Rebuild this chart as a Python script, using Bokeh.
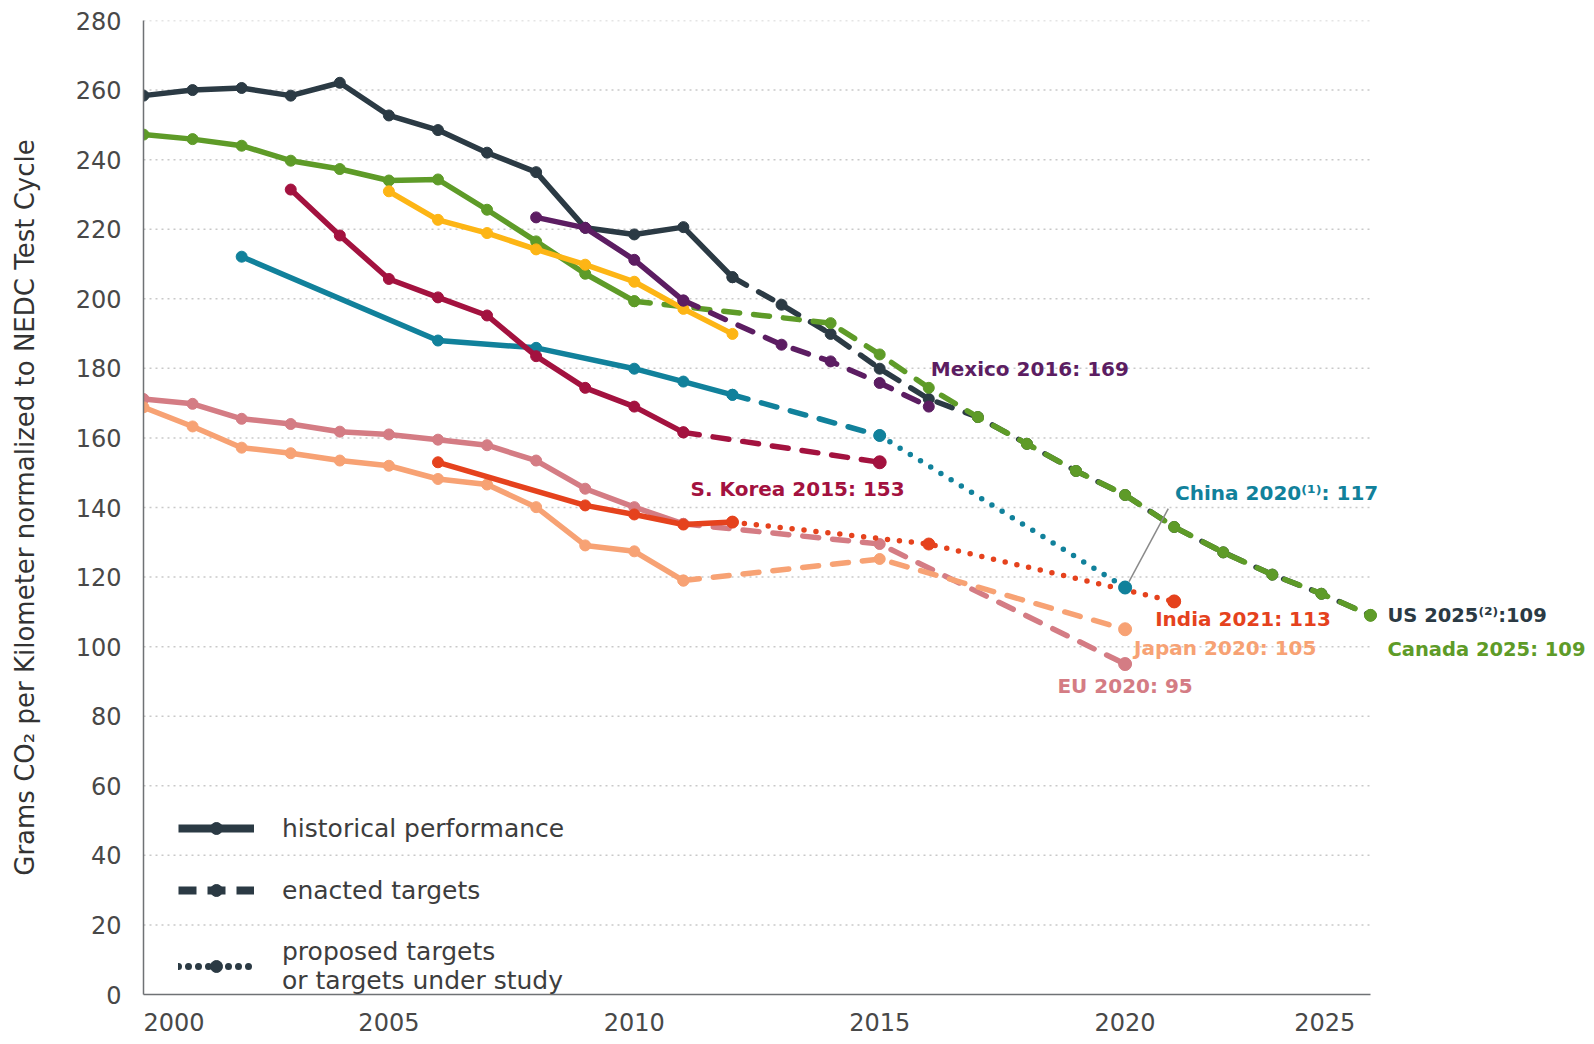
from bokeh.plotting import figure
from bokeh.models import (Legend, LegendItem, Label, FixedTicker, Range1d)
from bokeh.embed import file_html
from bokeh.resources import INLINE

# ---------------- data ----------------
us_hist_years = [2000, 2001, 2002, 2003, 2004, 2005, 2006, 2007, 2008, 2009, 2010, 2011, 2012]
us_hist = [258.4, 260.0, 260.6, 258.4, 262.1, 252.7, 248.5, 242.0, 236.4, 220.4, 218.5, 220.6, 206.2]
us_tgt_years = [2012, 2013, 2014, 2015, 2016, 2017, 2018, 2019, 2020, 2021, 2022, 2023, 2024, 2025]
us_tgt = [206.2, 198.3, 189.9, 179.9, 171.2, 166.0, 158.3, 150.5, 143.6, 134.4, 127.1, 120.7, 115.2, 109.0]

ca_hist_years = [2000, 2001, 2002, 2003, 2004, 2005, 2006, 2007, 2008, 2009, 2010]
ca_hist = [247.2, 245.9, 244.0, 239.7, 237.3, 234.0, 234.3, 225.6, 216.5, 207.2, 199.3]
ca_tgt_years = [2010, 2014, 2015, 2016, 2017, 2018, 2019, 2020, 2021, 2022, 2023, 2024, 2025]
ca_tgt = [199.3, 193.0, 184.0, 174.4, 166.0, 158.3, 150.5, 143.6, 134.4, 127.1, 120.7, 115.2, 109.0]

mx_hist_years = [2008, 2009, 2010, 2011]
mx_hist = [223.4, 220.4, 211.2, 199.5]
mx_tgt_years = [2011, 2013, 2014, 2015, 2016]
mx_tgt = [199.5, 186.8, 182.0, 175.8, 169.0]

au_hist_years = [2005, 2006, 2007, 2008, 2009, 2010, 2011, 2012]
au_hist = [230.9, 222.7, 218.9, 214.2, 209.8, 204.9, 197.1, 189.9]

kr_hist_years = [2003, 2004, 2005, 2006, 2007, 2008, 2009, 2010, 2011]
kr_hist = [231.4, 218.2, 205.7, 200.4, 195.2, 183.5, 174.4, 169.0, 161.6]
kr_tgt_years = [2011, 2015]
kr_tgt = [161.6, 153.0]

cn_hist_years = [2002, 2006, 2008, 2010, 2011, 2012]
cn_hist = [212.1, 188.0, 185.9, 179.9, 176.2, 172.4]
cn_tgt_years = [2012, 2015]
cn_tgt = [172.4, 160.7]
cn_prop_years = [2015, 2020]
cn_prop = [160.7, 117.0]

eu_hist_years = [2000, 2001, 2002, 2003, 2004, 2005, 2006, 2007, 2008, 2009, 2010, 2011]
eu_hist = [171.2, 169.8, 165.5, 164.0, 161.8, 161.0, 159.5, 157.9, 153.5, 145.4, 140.1, 135.3]
eu_tgt_years = [2011, 2015, 2020]
eu_tgt = [135.3, 129.5, 95.0]

jp_hist_years = [2000, 2001, 2002, 2003, 2004, 2005, 2006, 2007, 2008, 2009, 2010, 2011]
jp_hist = [168.8, 163.3, 157.2, 155.6, 153.5, 152.0, 148.2, 146.6, 140.1, 129.1, 127.4, 119.0]
jp_tgt_years = [2011, 2015, 2020]
jp_tgt = [119.0, 125.2, 105.0]

in_hist_years = [2006, 2009, 2010, 2011, 2012]
in_hist = [153.0, 140.6, 138.0, 135.1, 135.8]
in_prop_years = [2012, 2016, 2021]
in_prop = [135.8, 129.5, 113.0]

y_ticks = [0, 20, 40, 60, 80, 100, 120, 140, 160, 180, 200, 220, 240, 260, 280]
x_ticks = [2000, 2005, 2010, 2015, 2020, 2025]
x_tick_labels = ["\u00a0" * 8 + "2000", "2005", "2010", "2015", "2020", "2025" + "\u00a0" * 12]
x_axis_span = (2000, 2025)

legend_labels = ["historical performance", "enacted targets", "proposed targets\nor targets under study"]

# ---------------- colours ----------------
C_US = "#2b3a44"
C_CA = "#5e9b28"
C_MX = "#5c1d62"
C_AU = "#fdb515"
C_KR = "#a3123f"
C_CN = "#11819b"
C_EU = "#d47c84"
C_JP = "#f7a274"
C_IN = "#e5421d"

FONT = "DejaVu Sans"

W, H = 1594, 1040
LEFT, TOP, BOTTOM = 143, 20, 46
PX_PER_YEAR = 49.08
x_end = x_axis_span[0] + (W - LEFT) / PX_PER_YEAR

p = figure(width=W, height=H, x_range=Range1d(x_axis_span[0], x_end), y_range=Range1d(0, 280),
           output_backend="svg", toolbar_location=None,
           min_border_left=LEFT, min_border_right=0, min_border_top=TOP, min_border_bottom=BOTTOM)
p.outline_line_color = None
p.background_fill_color = "white"
p.border_fill_color = "white"

p.xgrid.visible = False
p.ygrid.visible = False

# dotted horizontal grid lines limited to the axis span
gy = [t for t in y_ticks if t > 0]
p.segment(x0=[x_axis_span[0]] * len(gy), y0=gy, x1=[x_axis_span[1]] * len(gy), y1=gy,
          line_color="#c9c9c9", line_dash="2 4", line_width=1.5)

p.yaxis.ticker = FixedTicker(ticks=y_ticks)
p.xaxis.ticker = FixedTicker(ticks=x_ticks)
p.xaxis.bounds = x_axis_span
p.xaxis.major_label_overrides = {t: l for t, l in zip(x_ticks, x_tick_labels)}
for ax in (p.xaxis, p.yaxis):
    ax.axis_line_color = "#6f7275"
    ax.axis_line_width = 1.5
    ax.major_tick_line_color = None
    ax.minor_tick_line_color = None
    ax.major_label_text_font = FONT
    ax.major_label_text_font_size = "24px"
    ax.major_label_text_color = "#484848"
p.yaxis.major_label_standoff = 16
p.xaxis.major_label_standoff = 8
p.yaxis.axis_label = "Grams CO\u2082 per Kilometer normalized to NEDC Test Cycle"
p.yaxis.axis_label_text_font = FONT
p.yaxis.axis_label_text_font_size = "26px"
p.yaxis.axis_label_text_font_style = "normal"
p.yaxis.axis_label_text_color = "#333333"
p.yaxis.axis_label_standoff = 33

LW = 5.5
DASH = "16 14"
DOT = "0 12"


def draw(xs, ys, color, kind, size=11, end_size=None):
    if kind == "hist":
        p.line(xs, ys, line_color=color, line_width=LW, line_join="round", line_cap="round")
    elif kind == "enacted":
        p.line(xs, ys, line_color=color, line_width=LW, line_dash=DASH, line_cap="round", line_join="round")
    else:
        p.line(xs, ys, line_color=color, line_width=LW, line_dash=DOT, line_cap="round")
    p.scatter(xs, ys, size=size, color=color)
    if end_size:
        p.scatter(xs[-1:], ys[-1:], size=end_size, color=color)


# drawing order (bottom to top)
draw(eu_hist_years, eu_hist, C_EU, "hist")
draw(eu_tgt_years, eu_tgt, C_EU, "enacted", end_size=13)
draw(jp_hist_years, jp_hist, C_JP, "hist")
draw(jp_tgt_years, jp_tgt, C_JP, "enacted", end_size=13)
draw(in_hist_years, in_hist, C_IN, "hist")
draw(in_prop_years, in_prop, C_IN, "proposed", size=12, end_size=13)
draw(cn_hist_years, cn_hist, C_CN, "hist")
draw(cn_tgt_years, cn_tgt, C_CN, "enacted")
draw(cn_prop_years, cn_prop, C_CN, "proposed", size=12, end_size=13)
draw(kr_hist_years, kr_hist, C_KR, "hist")
draw(kr_tgt_years, kr_tgt, C_KR, "enacted", end_size=13)
draw(us_hist_years, us_hist, C_US, "hist")
draw(us_tgt_years, us_tgt, C_US, "enacted")
draw(ca_hist_years, ca_hist, C_CA, "hist")
draw(ca_tgt_years, ca_tgt, C_CA, "enacted", end_size=12)
draw(au_hist_years, au_hist, C_AU, "hist")
draw(mx_hist_years, mx_hist, C_MX, "hist")
draw(mx_tgt_years, mx_tgt, C_MX, "enacted")

# China leader line
p.segment(x0=[cn_prop_years[-1] + 0.08], y0=[cn_prop[-1] + 1.7],
          x1=[cn_prop_years[-1] + 0.88], y1=[cn_prop[-1] + 22.7],
          line_color="#8a8a8a", line_width=1.5)

# target labels
LBL = dict(text_font=FONT, text_font_style="bold", text_baseline="middle")
labels = [
    (mx_tgt_years[-1], mx_tgt[-1], "Mexico 2016: 169", C_MX, "left", 2, 38, "20px"),
    (kr_tgt_years[-1], kr_tgt[-1], "S. Korea 2015: 153", C_KR, "right", 25, -27, "20px"),
    (cn_prop_years[-1], cn_prop[-1], "China 2020\u207d\u00b9\u207e: 117", C_CN, "left", 50, 95, "20px"),
    (in_prop_years[-1], in_prop[-1], "India 2021: 113", C_IN, "left", -19, -18, "20px"),
    (jp_tgt_years[-1], jp_tgt[-1], "Japan 2020: 105", C_JP, "left", 9, -19, "20px"),
    (eu_tgt_years[-1], eu_tgt[-1], "EU 2020: 95", C_EU, "center", 0, -22, "20px"),
    (us_tgt_years[-1], us_tgt[-1], "US 2025\u207d\u00b2\u207e:109", C_US, "left", 17, 0, "19.5px"),
    (ca_tgt_years[-1], ca_tgt[-1], "Canada 2025: 109", C_CA, "left", 17, -34, "19.5px"),
]
for x, y, t, c, al, dx, dy, fs in labels:
    p.add_layout(Label(x=x, y=y, text=t, text_color=c, text_align=al, x_offset=dx, y_offset=dy,
                       text_font_size=fs, **LBL))

# legend (style keys only, no visible data)
NAN = [float("nan")]
lh = p.line(NAN, NAN, line_color=C_US, line_width=8)
sh = p.scatter(NAN, NAN, size=16, color=C_US)
le = p.line(NAN, NAN, line_color=C_US, line_width=8, line_dash="18 11")
se = p.scatter(NAN, NAN, size=16, color=C_US)
lp = p.line(NAN, NAN, line_color=C_US, line_width=7, line_dash="0 10", line_cap="round")
sp = p.scatter(NAN, NAN, size=18, color=C_US)

legend = Legend(items=[LegendItem(label=legend_labels[0], renderers=[lh, sh]),
                       LegendItem(label=legend_labels[1], renderers=[le, se]),
                       LegendItem(label=legend_labels[2], renderers=[lp, sp])],
                location=(35, -1), glyph_width=76, glyph_height=30, label_standoff=28,
                spacing=32, padding=0, margin=0, border_line_color=None,
                background_fill_alpha=0, label_text_font=FONT, label_text_font_size="25px",
                label_text_color="#3d3d3d", label_text_line_height=0.82)
p.add_layout(legend)

open("out.html", "w").write(file_html(p, INLINE))
